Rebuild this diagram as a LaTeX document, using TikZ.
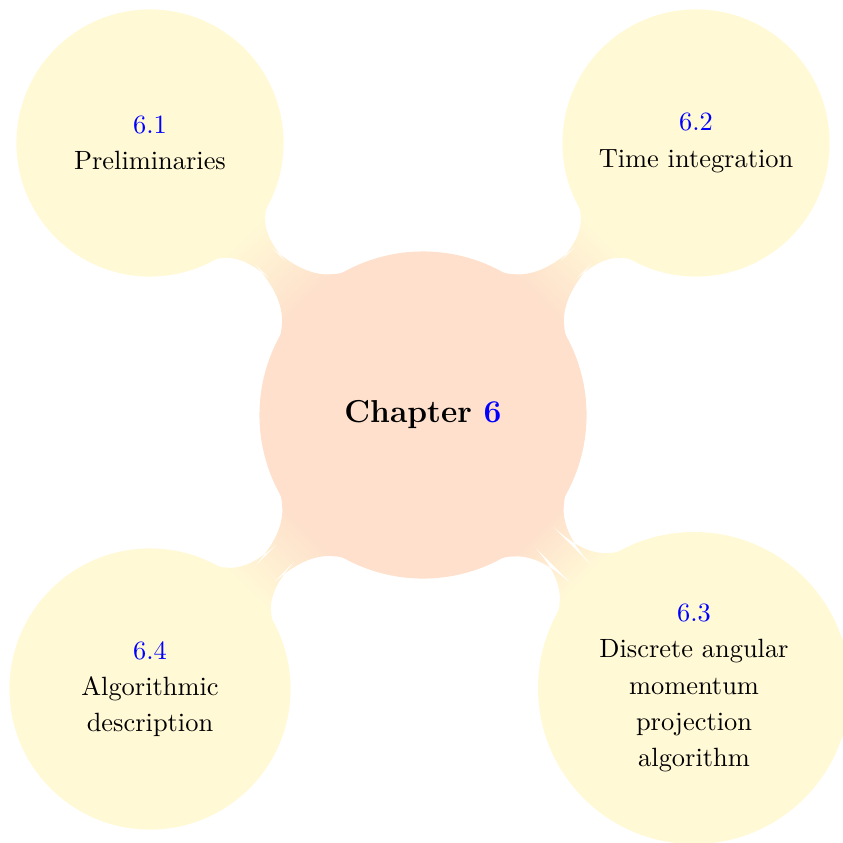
\documentclass[tikz,border=0pt]{standalone}
\usetikzlibrary{mindmap,backgrounds}
\definecolor{rootfill}{RGB}{254,224,204}
\definecolor{leaffill}{RGB}{255,249,214}
\begin{document}
\begin{tikzpicture}[x=0.3788pt,y=0.3788pt, mindmap,
  every node/.style={concept, align=center, inner sep=0pt, text width=,
    font=\fontsize{10}{13.7}\selectfont},
  rootnode/.style={concept color=rootfill, minimum size=122.7pt,
    font=\large\bfseries},
  leafnode/.style={concept color=leaffill},
  link/.style={circle connection bar switch color=from (rootfill) to (leaffill)}]
\useasboundingbox (0,0) rectangle (843,842);
% central concept
\node[rootnode] (root) at (423,427) {Chapter \textcolor{blue}{6}};
% sections
\node[leafnode, minimum size=100pt] (s1) at (150,699)
  {\textcolor{blue}{6.1}\\Preliminaries};
\node[leafnode, minimum size=100pt] (s2) at (696,699)
  {\textcolor{blue}{6.2}\\Time integration};
\node[leafnode, minimum size=117pt] (s3) at (694,154)
  {\textcolor{blue}{6.3}\\Discrete angular\\momentum\\projection\\algorithm};
\node[leafnode, minimum size=105.3pt] (s4) at (150,153)
  {\textcolor{blue}{6.4}\\Algorithmic\\description};
% connection bars behind the circles
\begin{scope}[on background layer]
  \path (root) to[link] (s1);
  \path (root) to[link] (s2);
  \path (root) to[link] (s3);
  \path (root) to[link] (s4);
\end{scope}
\end{tikzpicture}
\end{document}
